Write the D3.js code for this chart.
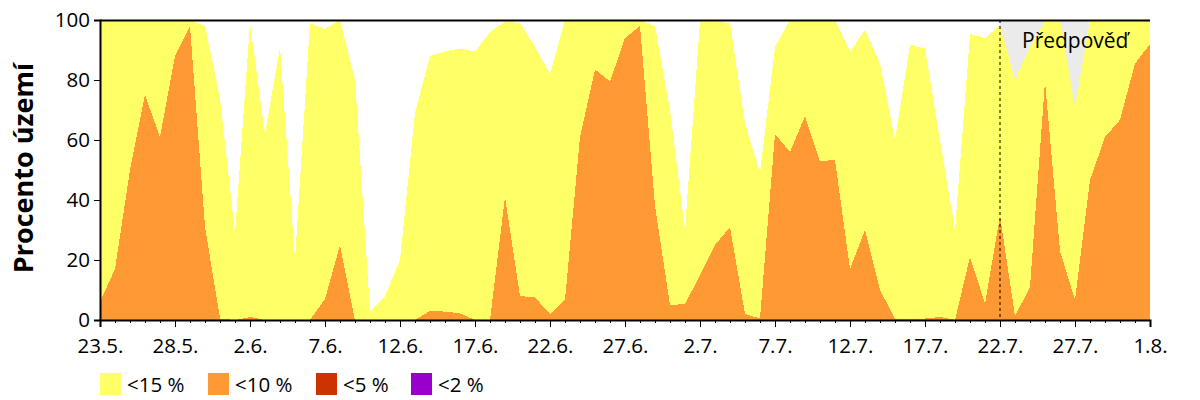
<!DOCTYPE html>
<html>
<head>
    <meta charset="utf-8">
    <script src="https://d3js.org/d3.v7.min.js"></script>
    <style>
        body { margin: 0; background: #fff; font-family: "Open Sans", sans-serif; }
        svg { display: block; }
    </style>
</head>
<body>
    <svg id="chart" width="1200" height="400"></svg>
    <script>
        // day labels every 5 days, 23.5. .. 1.8.
        const tickLabels = ["23.5.", "28.5.", "2.6.", "7.6.", "12.6.", "17.6.", "22.6.", "27.6.",
                            "2.7.", "7.7.", "12.7.", "17.7.", "22.7.", "27.7.", "1.8."];
        const forecastStart = 60; // index of 22.7.

        // % of area below 15 % soil moisture (includes lower classes)
        const below15 = [100, 100, 100, 100, 100, 100, 100, 98, 74, 29,
                         99, 62, 91, 20, 99, 97, 100, 80, 3, 8,
                         20, 69, 88, 89.5, 90.5, 89.5, 96, 99.5, 99, 91,
                         82, 100, 100, 100, 100, 100, 100, 98, 70, 30,
                         99.5, 99.5, 99, 65.5, 49, 91, 100, 100, 100, 100,
                         89.5, 96.7, 85.5, 60, 91.7, 90.5, 60, 30, 95.3, 94,
                         98.3, 80, 91, 99.5, 100, 71, 100, 100, 100, 100, 100];
        const below10 = [6, 17, 50, 75, 61, 88, 98, 31, 0.5, 0,
                         1, 0, 0, 0, 0, 7, 25, 0, 0, 0,
                         0, 0, 3, 2.8, 2.2, 0, 0, 41, 8, 7.5,
                         2, 6.7, 61, 83.5, 79.5, 94, 98, 38, 5, 5.3,
                         15, 25, 31, 2, 0.5, 62, 56, 68, 53, 53.3,
                         17, 30, 10, 0.5, 0.5, 0.5, 1, 0, 21, 5.5,
                         34.7, 1.3, 11, 79.5, 23, 6.7, 46.7, 61, 66.7, 85.5, 92];
        const below5 = below10.map(() => 0);
        const below2 = below10.map(() => 0);

        const legendLabels = ["<15 %", "<10 %", "<5 %", "<2 %"];
        const colors = ["#ffff66", "#ff9933", "#cc3300", "#9900cc"];
        const yTicks = [0, 20, 40, 60, 80, 100];

        const svg = d3.select("#chart");
        const margin = { top: 20, left: 100, right: 50, bottom: 80 };
        const width = 1200 - margin.left - margin.right,
              height = 400 - margin.top - margin.bottom;

        const g = svg.append("g").attr("transform", `translate(${margin.left},${margin.top})`);

        const days = d3.range(below15.length);
        const x = d3.scaleLinear().domain([0, days.length - 1]).range([0, width]);
        const y = d3.scaleLinear().domain([0, 100]).range([height, 0]);

        // forecast background
        g.append("rect")
            .attr("x", x(forecastStart))
            .attr("y", y(100))
            .attr("width", x(days.length - 1) - x(forecastStart))
            .attr("height", y(0) - y(100))
            .attr("fill", "#ebebeb");

        const series = [below15, below10, below5, below2];
        series.forEach((vals, k) => {
            const area = d3.area()
                .x((d, i) => x(i))
                .y0(y(0))
                .y1(d => y(d));
            g.append("path")
                .datum(vals)
                .attr("d", area)
                .attr("fill", colors[k])
                .attr("shape-rendering", "crispEdges");
        });

        // forecast divider
        g.append("line")
            .attr("x1", x(forecastStart)).attr("x2", x(forecastStart))
            .attr("y1", y(100)).attr("y2", y(0))
            .attr("stroke", "#000")
            .attr("stroke-dasharray", "3,3");

        g.append("text")
            .attr("x", x(forecastStart) + 22)
            .attr("y", y(100) + 28)
            .attr("font-size", 21)
            .text("Předpověď");

        // top frame line
        g.append("line")
            .attr("x1", 0).attr("x2", width)
            .attr("y1", 0.5).attr("y2", 0.5)
            .attr("stroke", "#000").attr("stroke-width", 2);

        // minor day ticks
        const xMinor = g.append("g")
            .attr("transform", `translate(0,${height})`)
            .call(d3.axisBottom(x).tickValues(days).tickSize(3).tickFormat(""));
        xMinor.select(".domain").remove();

        const xAxis = g.append("g")
            .attr("transform", `translate(0,${height})`)
            .call(d3.axisBottom(x)
                .tickValues(d3.range(0, days.length, 5))
                .tickSize(7)
                .tickPadding(11)
                .tickFormat((d, i) => tickLabels[i]));
        xAxis.select(".domain").attr("stroke-width", 2);
        xAxis.selectAll("text")
            .attr("font-family", "Open Sans, sans-serif")
            .attr("font-size", 20.5)
            .attr("fill", "#000");

        const yAxis = g.append("g")
            .call(d3.axisLeft(y).tickValues(yTicks).tickSize(6).tickPadding(4));
        yAxis.select(".domain").attr("stroke-width", 2);
        yAxis.selectAll("text")
            .attr("font-family", "Open Sans, sans-serif")
            .attr("font-size", 20.5)
            .attr("fill", "#000");

        svg.append("text")
            .attr("transform", `translate(33,168) rotate(-90)`)
            .attr("text-anchor", "middle")
            .attr("font-size", 27)
            .attr("font-weight", "bold")
            .text("Procento území");

        // legend
        const legendX = [100, 208, 316, 411];
        const legend = svg.append("g").attr("transform", "translate(0,373)");
        legendLabels.forEach((lab, k) => {
            legend.append("rect")
                .attr("x", legendX[k]).attr("y", 0)
                .attr("width", 21).attr("height", 22)
                .attr("fill", colors[k]);
            legend.append("text")
                .attr("x", legendX[k] + 27).attr("y", 19)
                .attr("font-size", 20.5)
                .text(lab);
        });
    </script>
</body>
</html>
